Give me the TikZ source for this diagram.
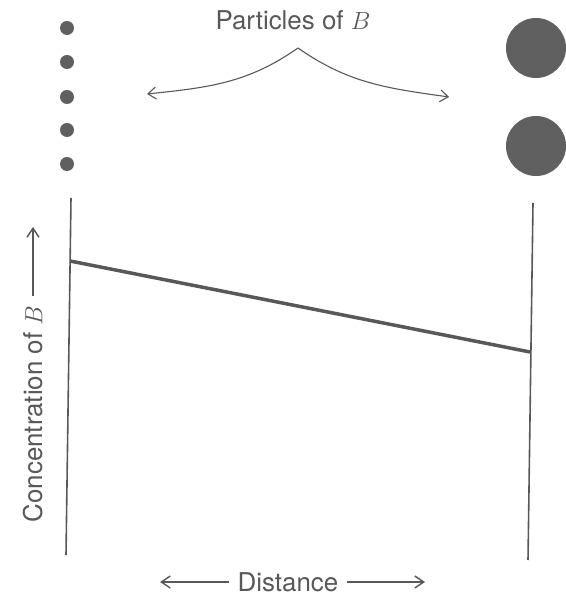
\documentclass[tikz,border=0pt]{standalone}
\usepackage{fontspec}
\setsansfont{TeX Gyre Heros}
\usepackage{tikz}
\usetikzlibrary{arrows.meta,positioning,calc}

\definecolor{inkgray}{HTML}{585858}
\definecolor{dotgray}{HTML}{606060}

\begin{document}
\begin{tikzpicture}[
            x=1bp, y=1bp,
            font=\fontsize{26}{30}\selectfont\sffamily,
            text=inkgray,
            small/.style={circle, fill=dotgray, inner sep=0pt, minimum size=14bp},
            big/.style={circle, fill=dotgray, inner sep=0pt, minimum size=60bp},
            wall/.style={draw=inkgray, line width=1.6bp},
            profile/.style={draw=inkgray, line width=3.5bp},
            lblarrow/.style={draw=inkgray, line width=1.1bp, -{Straight Barb[length=8bp, width=12bp]}},
            axarrow/.style={draw=inkgray, line width=1.4bp, -{Straight Barb[length=9bp, width=12bp]}}
        ]
\useasboundingbox (0,0) rectangle (566,606);

% --- particles of B: many small ones on the left, two big ones on the right ---
            \foreach \i/\yy in {1/578, 2/544, 3/509, 4/476, 5/442}
                \node[small] (s\i) at (67,\yy) {};
            \node[big] (b1) at (536,558) {};
            \node[big] (b2) at (536,460) {};

% --- label with its two pointers ---
            \node[anchor=base] (part) at (293,576) {Particles of $B$};
            \coordinate (apex) at (298,558);
            \coordinate (ptL)  at (147,512);
            \coordinate (ptR)  at (449,509);
            \draw[lblarrow] (apex) to[out=215, in=6]   (ptL);
            \draw[lblarrow] (apex) to[out=-35, in=172] (ptR);

% --- the two walls ---
            \coordinate (wLt) at (71,408);
            \coordinate (wLb) at (66,51);
            \coordinate (wRt) at (533,403);
            \coordinate (wRb) at (528,46);
            \draw[wall] (wLt) -- (wLb);
            \draw[wall] (wRt) -- (wRb);

% concentration profile between the walls
            \coordinate (cL) at (70,345);
            \coordinate (cR) at (530,254);
            \draw[profile] (cL) -- (cR);

% --- axis labels ---
            \node[rotate=90] (conc) at (33,192) {Concentration of $B$};
            \coordinate (concTip) at (33,379);
            \draw[axarrow, shorten <=6bp] (conc.east) -- (concTip);

            \node (dist) at (288,24) {Distance};
            \coordinate (distL) at (160,24);
            \coordinate (distR) at (425,24);
            \draw[axarrow, shorten <=5bp] (dist.west) -- (distL);
            \draw[axarrow, shorten <=5bp] (dist.east) -- (distR);
\end{tikzpicture}
\end{document}
